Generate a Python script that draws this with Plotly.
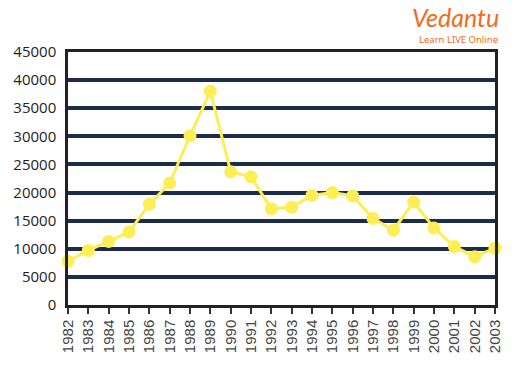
import plotly.graph_objects as go

years = list(range(1982, 2004))
values = [7800, 9700, 11300, 13000, 17900, 21700, 30100, 38000, 23700, 22800,
          17100, 17400, 19500, 20000, 19400, 15400, 13300, 18300, 13700, 10400,
          8600, 10100]
y_ticks = [0, 5000, 10000, 15000, 20000, 25000, 30000, 35000, 40000, 45000]
x_tick_labels = [str(y) for y in years]

fig = go.Figure()
fig.add_trace(go.Scatter(
    x=years, y=values, mode="lines+markers",
    line=dict(color="#FDEE55", width=3),
    marker=dict(color="#FDEE55", size=13),
    cliponaxis=False, showlegend=False,
))

fig.update_layout(
    width=515, height=382,
    margin=dict(l=68, r=18, t=52, b=77),
    paper_bgcolor="white", plot_bgcolor="white",
    xaxis=dict(
        range=[1982, 2003], tickvals=years, ticktext=x_tick_labels,
        tickangle=-90, ticks="outside", ticklen=6, tickwidth=1.5, tickcolor="#333",
        showgrid=False, zeroline=False,
        showline=True, linecolor="#222", linewidth=2.5, mirror=True,
        tickfont=dict(family="Liberation Sans, Arial", size=15, color="#444"),
    ),
    yaxis=dict(
        range=[0, 45000], tickvals=y_ticks, ticktext=[str(v) for v in y_ticks],
        showgrid=True, gridcolor="#1B2D4B", gridwidth=3.5, zeroline=False,
        showline=True, linecolor="#222", linewidth=2.5, mirror=True,
        ticks="", ticklabelstandoff=6,
        tickfont=dict(family="Open Sans, Noto Sans", size=15, color="#222"),
    ),
)
fig.add_annotation(text="<i>Vedantu</i>", xref="paper", yref="paper",
                   x=1.014, y=1.07, xanchor="right", yanchor="bottom", showarrow=False,
                   font=dict(family="Lato, Noto Sans", size=25, color="#F26B22"))
fig.add_annotation(text="Learn LIVE Online", xref="paper", yref="paper",
                   x=1.012, y=1.015, xanchor="right", yanchor="bottom", showarrow=False,
                   font=dict(family="Noto Sans, Open Sans", size=9.5, color="#F26B22"))

fig.write_html("out.html", config={"displayModeBar": False},
               post_script="document.body.style.margin='0';")
